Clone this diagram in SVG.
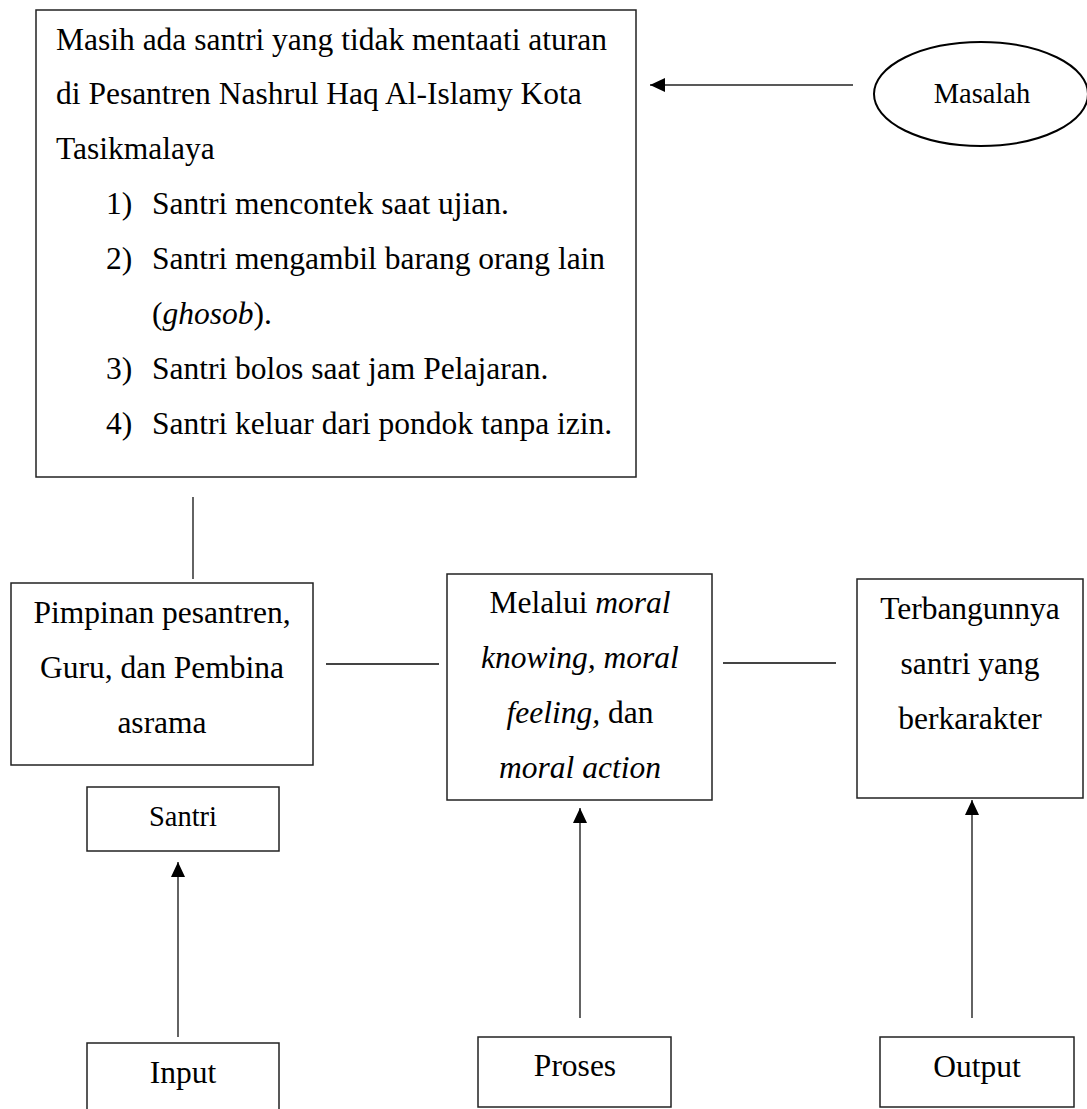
<svg xmlns="http://www.w3.org/2000/svg" width="1087" height="1109" viewBox="0 0 1087 1109">
<style>
  .box { fill: #ffffff; stroke: #222222; stroke-width: 1.5; }
  .t { font-family: "Liberation Serif", "Times New Roman", serif; font-size: 31.5px; fill: #000000; }
  .s { font-family: "Liberation Serif", "Times New Roman", serif; font-size: 28.5px; fill: #000000; }
  .c { text-anchor: middle; }
  .i { font-style: italic; }
  .ln { stroke: #222222; stroke-width: 1.4; fill: none; }
  .hl { stroke: #444444; stroke-width: 2; fill: none; }
</style>
<defs>
  <marker id="ah" viewBox="0 0 15 14" refX="15" refY="7" markerWidth="15" markerHeight="14" markerUnits="userSpaceOnUse" orient="auto">
    <path d="M0,0 L15,7 L0,14 Z" fill="#000000"/>
  </marker>
</defs>
<rect width="1087" height="1109" fill="#ffffff"/>

<g id="masalah-box">
  <rect class="box" x="36" y="10" width="600" height="467"/>
  <text class="t" x="56" y="50">Masih ada santri yang tidak mentaati aturan</text>
  <text class="t" x="56" y="104">di Pesantren Nashrul Haq Al-Islamy Kota</text>
  <text class="t" x="56" y="159">Tasikmalaya</text>
  <text class="t" x="106" y="214">1)</text>
  <text class="t" x="152" y="214">Santri mencontek saat ujian.</text>
  <text class="t" x="106" y="269">2)</text>
  <text class="t" x="152" y="269">Santri mengambil barang orang lain</text>
  <text class="t" x="152" y="324">(<tspan class="i">ghosob</tspan>).</text>
  <text class="t" x="106" y="379">3)</text>
  <text class="t" x="152" y="379">Santri bolos saat jam Pelajaran.</text>
  <text class="t" x="106" y="434">4)</text>
  <text class="t" x="152" y="434">Santri keluar dari pondok tanpa izin.</text>
</g>

<g id="masalah">
  <ellipse cx="981" cy="94" rx="107" ry="52" fill="#ffffff" stroke="#000000" stroke-width="2"/>
  <text class="s c" x="982" y="103">Masalah</text>
</g>

<g id="pimpinan">
  <rect class="box" x="11" y="583" width="302" height="182"/>
  <text class="t c" x="162" y="623">Pimpinan pesantren,</text>
  <text class="t c" x="162" y="678">Guru, dan Pembina</text>
  <text class="t c" x="162" y="733">asrama</text>
</g>

<g id="santri">
  <rect class="box" x="87" y="787" width="192" height="64"/>
  <text class="s c" x="183" y="826">Santri</text>
</g>

<g id="proses-box">
  <rect class="box" x="447" y="574" width="265" height="226"/>
  <text class="t c" x="580" y="613">Melalui <tspan class="i">moral</tspan></text>
  <text class="t c i" x="580" y="668">knowing, moral</text>
  <text class="t c" x="580" y="723"><tspan class="i">feeling,</tspan> dan</text>
  <text class="t c i" x="580" y="778">moral action</text>
</g>

<g id="output-box">
  <rect class="box" x="857" y="579" width="226" height="219"/>
  <text class="t c" x="970" y="619">Terbangunnya</text>
  <text class="t c" x="970" y="674">santri yang</text>
  <text class="t c" x="970" y="729">berkarakter</text>
</g>

<g id="input">
  <path class="box" d="M87,1115 L87,1043 L279,1043 L279,1115"/>
  <text class="t c" x="183" y="1083">Input</text>
</g>

<g id="proses">
  <rect class="box" x="478" y="1037" width="193" height="70"/>
  <text class="t c" x="575" y="1076">Proses</text>
</g>

<g id="output">
  <rect class="box" x="880" y="1037" width="194" height="70"/>
  <text class="t c" x="977" y="1077">Output</text>
</g>

<g id="connectors">
  <line class="ln" x1="853" y1="85" x2="650" y2="85" marker-end="url(#ah)"/>
  <line class="ln" x1="193" y1="497" x2="193" y2="579"/>
  <line class="hl" x1="326" y1="664" x2="439" y2="664"/>
  <line class="hl" x1="723" y1="663" x2="836" y2="663"/>
  <line class="ln" x1="178" y1="1037" x2="178" y2="862" marker-end="url(#ah)"/>
  <line class="ln" x1="580" y1="1018" x2="580" y2="808" marker-end="url(#ah)"/>
  <line class="ln" x1="972" y1="1018" x2="972" y2="800" marker-end="url(#ah)"/>
</g>
</svg>
